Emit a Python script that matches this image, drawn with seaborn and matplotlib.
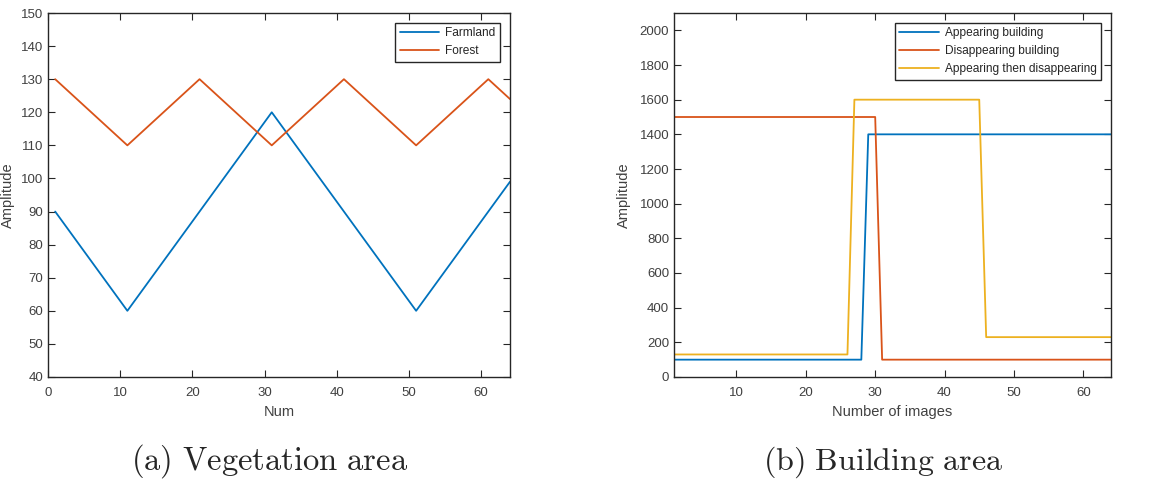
import pandas as pd
import matplotlib.pyplot as plt
import seaborn as sns

# (a) vegetation area: corner points of the triangle-shaped curves
farm_x = [1, 11, 31, 51, 64]
farm_y = [90, 60, 120, 60, 99]
forest_x = [1, 11, 21, 31, 41, 51, 61, 64]
forest_y = [130, 110, 130, 110, 130, 110, 130, 124]

# (b) building area: step curves
appear_x = [1, 28, 29, 64]
appear_y = [100, 100, 1400, 1400]
disappear_x = [1, 30, 31, 64]
disappear_y = [1500, 1500, 100, 100]
both_x = [1, 26, 27, 45, 46, 64]
both_y = [130, 130, 1600, 1600, 230, 230]

veg_names = ["Farmland", "Forest"]
bld_names = ["Appearing building", "Disappearing building", "Appearing then disappearing"]
colors = ["#0072BD", "#D95319", "#EDB120"]

sns.set_style("ticks")
plt.rcParams["font.family"] = ["Liberation Sans", "DejaVu Sans"]
plt.rcParams["mathtext.fontset"] = "cm"

veg = pd.concat([
    pd.DataFrame({"x": farm_x, "y": farm_y, "name": veg_names[0]}),
    pd.DataFrame({"x": forest_x, "y": forest_y, "name": veg_names[1]}),
])
bld = pd.concat([
    pd.DataFrame({"x": appear_x, "y": appear_y, "name": bld_names[0]}),
    pd.DataFrame({"x": disappear_x, "y": disappear_y, "name": bld_names[1]}),
    pd.DataFrame({"x": both_x, "y": both_y, "name": bld_names[2]}),
])

fig = plt.figure(figsize=(11.53, 4.8), dpi=100)
ax1 = fig.add_axes([0.0416, 0.2146, 0.4007, 0.7583])
ax2 = fig.add_axes([0.5846, 0.2146, 0.379, 0.7583])

sns.lineplot(data=veg, x="x", y="y", hue="name", palette=colors[:2],
             sort=False, estimator=None, linewidth=1.3, ax=ax1)
sns.lineplot(data=bld, x="x", y="y", hue="name", palette=colors,
             sort=False, estimator=None, linewidth=1.3, ax=ax2)

ax1.set_xlim(0, 64)
ax1.set_ylim(40, 150)
ax1.set_xticks(range(0, 61, 10))
ax1.set_yticks(range(40, 151, 10))
ax1.set_xlabel("Num")
ax1.set_ylabel("Amplitude")

ax2.set_xlim(1, 64)
ax2.set_ylim(0, 2100)
ax2.set_xticks(range(10, 61, 10))
ax2.set_yticks(range(0, 2001, 200))
ax2.set_xlabel("Number of images")
ax2.set_ylabel("Amplitude")

for ax in (ax1, ax2):
    for s in ax.spines.values():
        s.set_visible(True)
        s.set_color("0.15")
        s.set_linewidth(1.0)
    ax.tick_params(direction="in", top=True, right=True, length=5,
                   labelsize=9.5, colors="0.15", labelcolor="0.25")
    ax.tick_params(axis="x", pad=7.5)
    ax.tick_params(axis="y", pad=3.5)
    ax.xaxis.label.set_size(10.5)
    ax.yaxis.label.set_size(10.5)
    ax.xaxis.label.set_color("0.25")
    ax.yaxis.label.set_color("0.25")
    ax.xaxis.labelpad = 4
    leg = ax.legend(loc="upper right", fontsize=8.6, fancybox=False,
                    edgecolor="0.15", framealpha=1, handlelength=3.3,
                    borderaxespad=0.8, labelspacing=0.5, borderpad=0.4,
                    handletextpad=0.5)
    leg.get_frame().set_linewidth(1.0)

ax1.yaxis.labelpad = 4
ax2.yaxis.labelpad = 6

fig.text(0.234, 0.022, r"$\mathrm{(a)\ Vegetation\ area}$", ha="center", fontsize=23.5)
fig.text(0.766, 0.022, r"$\mathrm{(b)\ Building\ area}$", ha="center", fontsize=23)

fig.savefig("out.png", dpi=100)
